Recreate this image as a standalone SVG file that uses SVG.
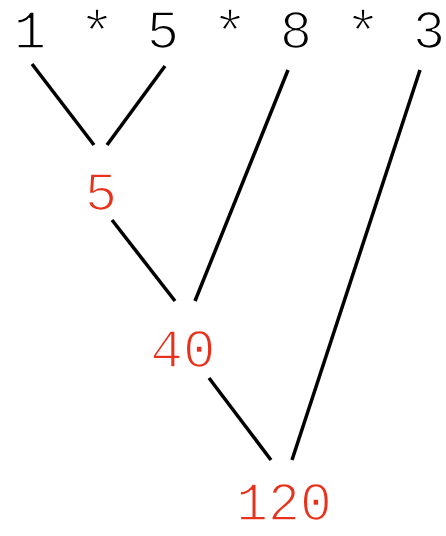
<svg xmlns="http://www.w3.org/2000/svg" width="446" height="536" viewBox="0 0 446 536">
<style>
text{font-family:"Liberation Mono","Courier New",monospace;font-size:54px;text-anchor:middle;stroke:#fff;stroke-width:1.6px}
.top{fill:#000}
.ast{font-size:60px}
.res{fill:#e8301a}
line{stroke:#000;stroke-width:3.5}
</style>
<rect width="446" height="536" fill="#fff"/>
<g id="expr"><text class="top" x="30" y="48">1</text><text class="top ast" x="97" y="52">*</text><text class="top" x="163" y="48">5</text><text class="top ast" x="230" y="52">*</text><text class="top" x="296" y="48">8</text><text class="top ast" x="363" y="52">*</text><text class="top" x="429" y="48">3</text></g>
<g id="r5"><text class="res" x="101" y="210">5</text></g>
<g id="r40"><text class="res" x="183" y="367">40</text></g>
<g id="r120"><text class="res" x="284" y="520" style="font-size:53px">120</text></g>
<g id="connectors">
<line x1="32" y1="64" x2="94" y2="145"/>
<line x1="165" y1="66" x2="107" y2="145"/>
<line x1="112" y1="220" x2="175" y2="301"/>
<line x1="288" y1="70" x2="195" y2="301"/>
<line x1="209" y1="378" x2="271" y2="460"/>
<line x1="420" y1="70" x2="292" y2="460"/>
</g>
</svg>
